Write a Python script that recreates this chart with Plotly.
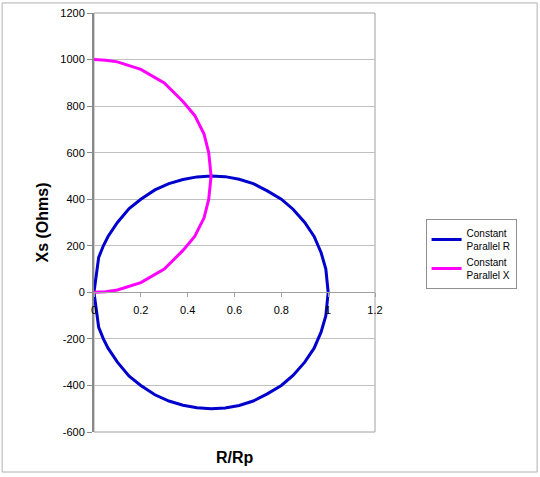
import plotly.graph_objects as go

# constant parallel R (blue circle)
r_ratio_r = [0, 0.02, 0.04, 0.06, 0.10, 0.15, 0.20, 0.26, 0.32, 0.38, 0.44, 0.50,
             0.56, 0.62, 0.68, 0.74, 0.80, 0.85, 0.90, 0.94, 0.97, 0.99, 1.00,
             0.99, 0.97, 0.94, 0.90, 0.85, 0.80, 0.74, 0.68, 0.62, 0.56, 0.50,
             0.44, 0.38, 0.32, 0.26, 0.20, 0.15, 0.10, 0.06, 0.04, 0.02, 0]
xs_r = [0, 150, 200, 240, 300, 360, 400, 440, 467, 485, 496, 500,
        497, 486, 467, 436, 400, 357, 300, 240, 170, 100, 0,
        -100, -170, -240, -300, -357, -400, -436, -467, -486, -497, -500,
        -496, -485, -467, -440, -400, -360, -300, -240, -200, -150, 0]

# constant parallel X (magenta arc)
r_ratio_x = [0, 0.05, 0.10, 0.20, 0.30, 0.38, 0.43, 0.47, 0.49, 0.50,
             0.49, 0.47, 0.43, 0.38, 0.30, 0.20, 0.10, 0.05, 0]
xs_x = [0, 3, 10, 42, 100, 180, 240, 320, 400, 500,
        600, 680, 760, 820, 900, 958, 990, 997, 1000]

y_ticks = [-600, -400, -200, 0, 200, 400, 600, 800, 1000, 1200]
y_labels = ['-600', '-400', '-200', '0', '200', '400', '600', '800', '1000', '1200']
x_ticks = [0, 0.2, 0.4, 0.6, 0.8, 1, 1.2]
x_labels = ['0', '0.2', '0.4', '0.6', '0.8', '1', '1.2']

fig = go.Figure()
fig.add_trace(go.Scatter(x=r_ratio_r, y=xs_r, mode='lines',
                         name='Constant<br>Parallel R',
                         line=dict(color='#0000CC', width=3)))
fig.add_trace(go.Scatter(x=r_ratio_x, y=xs_x, mode='lines',
                         name='Constant<br>Parallel X',
                         line=dict(color='#FF00FF', width=3)))

axis_font = dict(family='Liberation Sans, Arial', size=11, color='black')

fig.update_layout(
    width=540, height=477,
    margin=dict(l=94, r=165, t=13, b=45),
    paper_bgcolor='white', plot_bgcolor='white',
    font=dict(family='Liberation Sans, Arial', color='black'),
    xaxis=dict(range=[0, 1.2], tickvals=x_ticks, ticktext=x_labels,
               anchor='free', position=1/3, automargin=False,
               showgrid=False, zeroline=False,
               showline=True, linecolor='#a0a0a0', linewidth=1,
               ticks='outside', ticklen=4, tickcolor='#a0a0a0',
               ticklabelstandoff=3, tickfont=axis_font),
    yaxis=dict(range=[-600, 1200], tickvals=y_ticks, ticktext=y_labels,
               automargin=False,
               showgrid=True, gridcolor='#c0c0c0', gridwidth=1,
               zeroline=False,
               showline=True, linecolor='#8a8a8a', linewidth=2,
               ticks='outside', ticklen=5, tickcolor='#8a8a8a',
               tickfont=axis_font,
               title=dict(text='<b>Xs (Ohms)</b>', standoff=8,
                          font=dict(size=16, family='Liberation Sans, Arial'))),
    legend=dict(x=1.18, y=0.425, xanchor='left', yanchor='middle',
                bordercolor='#909090', borderwidth=1, bgcolor='white',
                font=dict(size=10, family='Liberation Sans, Arial'),
                tracegroupgap=2),
    showlegend=True,
)

# x-axis title below the plot area
fig.add_annotation(text='<b>R/Rp</b>', xref='paper', yref='paper',
                   x=0.5, y=-0.06, xanchor='center', yanchor='middle',
                   showarrow=False,
                   font=dict(size=16, family='Liberation Sans, Arial'))

# plot area frame and outer chart border
fig.add_shape(type='rect', xref='paper', yref='paper', x0=0, x1=1, y0=0, y1=1,
              line=dict(color='#a0a0a0', width=1), layer='below')
fig.add_shape(type='rect', xref='paper', yref='paper',
              x0=-0.327, x1=1.577, y0=-0.0955, y1=1.024,
              line=dict(color='#b0b0b0', width=1), layer='below')

fig.write_html("out.html", config={'displayModeBar': False},
               post_script="document.body.style.margin='0';document.body.style.overflow='hidden';")
